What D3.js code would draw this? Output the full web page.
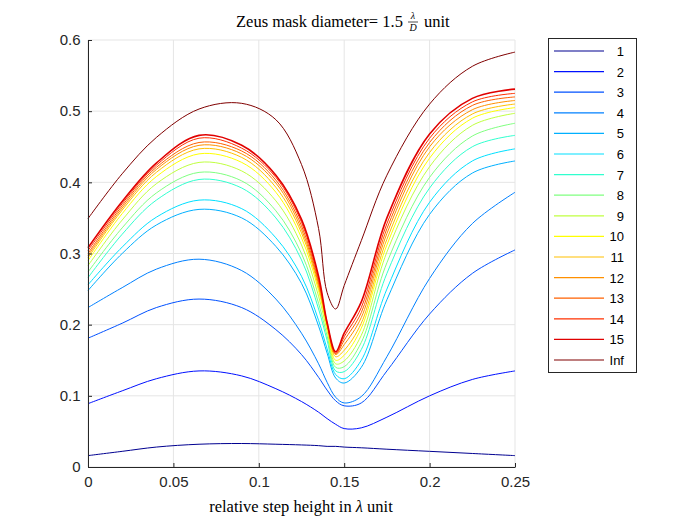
<!DOCTYPE html>
<html><head><meta charset="utf-8">
<script src="https://cdn.jsdelivr.net/npm/d3@7"></script>
<style>body{margin:0;background:#fff}</style>
</head><body><svg id="c" width="700" height="525"></svg>
<script>
const xs = [0, .02, .04, .065, .09, .11, .125, .135, .14, .145, .15, .16, .175, .2, .225, .25];
const names = ["1","2","3","4","5","6","7","8","9","10","11","12","13","14","15","Inf"];
const colors = ["#000090","#0010ff","#0050ff","#0080ff","#00b0ff","#00e0ff","#30ffcf","#80ff80",
  "#c0ff40","#ffff00","#ffc000","#ff9000","#ff6000","#ff3000","#e00000","#800000"];
const series = [
  [.016,.022,.028,.032,.033,.032,.031,.030,.029,.029,.028,.027,.025,.022,.019,.016],
  [.089,.107,.124,.135,.128,.110,.092,.077,.068,.060,.054,.055,.070,.100,.123,.135],
  [.181,.202,.224,.236,.224,.193,.158,.126,.108,.093,.086,.090,.135,.215,.272,.305],
  [.224,.252,.278,.292,.276,.236,.188,.145,.119,.098,.090,.099,.155,.265,.342,.386],
  [.248,.300,.340,.362,.350,.310,.258,.198,.160,.125,.118,.140,.235,.355,.413,.430],
  [.256,.309,.351,.375,.363,.322,.268,.206,.166,.130,.124,.150,.250,.372,.430,.447],
  [.266,.327,.375,.404,.392,.350,.291,.222,.178,.135,.134,.165,.272,.392,.450,.466],
  [.274,.336,.385,.414,.402,.360,.300,.230,.184,.140,.141,.175,.287,.407,.465,.483],
  [.283,.347,.398,.428,.416,.374,.312,.240,.191,.145,.149,.185,.302,.422,.480,.497],
  [.290,.356,.408,.440,.428,.386,.322,.248,.196,.150,.157,.195,.312,.434,.490,.505],
  [.294,.361,.414,.447,.435,.393,.329,.253,.199,.155,.164,.202,.320,.442,.496,.510],
  [.297,.364,.418,.452,.440,.399,.334,.257,.200,.158,.172,.210,.328,.450,.502,.515],
  [.300,.367,.421,.456,.444,.403,.339,.260,.201,.159,.178,.217,.335,.456,.508,.520],
  [.304,.370,.424,.462,.448,.407,.344,.264,.202,.160,.183,.224,.342,.462,.513,.525],
  [.308,.373,.427,.466,.452,.410,.348,.268,.203,.162,.188,.232,.350,.468,.518,.531],
  [.349,.412,.463,.503,.511,.488,.425,.335,.245,.222,.255,.318,.410,.510,.563,.583]
];
const xTicks = [0, .05, .1, .15, .2, .25];
const yTicks = [0, .1, .2, .3, .4, .5, .6];

const svg = d3.select("#c");
const L = 88, R = 515, T = 40, B = 467;
const x = d3.scaleLinear().domain([0, .25]).range([L, R]);
const y = d3.scaleLinear().domain([0, .6]).range([B, T]);

const grid = svg.append("g").attr("stroke", "#e5e5e5").attr("stroke-width", 1);
xTicks.forEach(t => grid.append("line").attr("x1", x(t)).attr("x2", x(t)).attr("y1", T).attr("y2", B));
yTicks.forEach(t => grid.append("line").attr("x1", L).attr("x2", R).attr("y1", y(t)).attr("y2", y(t)));

const lineGen = d3.line().x((d, i) => x(xs[i])).y(d => y(d)).curve(d3.curveCatmullRom.alpha(0.5));
series.forEach((s, k) => {
  svg.append("path").attr("d", lineGen(s)).attr("fill", "none")
    .attr("stroke", colors[k]).attr("stroke-width", k == 14 ? 1.6 : 1);
});

const xa = svg.append("g").attr("transform", `translate(0,${B})`)
  .call(d3.axisBottom(x).tickValues(xTicks).tickSizeInner(-4).tickSizeOuter(0).tickFormat(d => d3.format("")(d)));
const ya = svg.append("g").attr("transform", `translate(${L},0)`)
  .call(d3.axisLeft(y).tickValues(yTicks).tickSizeInner(-4).tickSizeOuter(0).tickFormat(d => d3.format("")(d)));
[xa, ya].forEach(a => {
  a.selectAll("path,line").attr("stroke", "#262626");
  a.selectAll("text").attr("fill", "#262626").style("font-family", "Liberation Sans, Arial").style("font-size", "15px");
});
xa.selectAll("text").attr("dy", "1.1em");
ya.selectAll("text").attr("dx", "-0.3em");

const serif = "Liberation Serif, Times New Roman, serif";
svg.append("text").attr("x", 236).attr("y", 27).style("font-family", serif).style("font-size", "16.5px")
  .text("Zeus mask diameter= 1.5");
svg.append("text").attr("x", 413).attr("y", 19).attr("text-anchor", "middle").style("font-family", serif).style("font-style", "italic").style("font-size", "10px").text("λ");
svg.append("line").attr("x1", 408).attr("x2", 418).attr("y1", 22).attr("y2", 22).attr("stroke", "#000").attr("stroke-width", 0.7);
svg.append("text").attr("x", 413).attr("y", 31).attr("text-anchor", "middle").style("font-family", serif).style("font-style", "italic").style("font-size", "10px").text("D");
svg.append("text").attr("x", 424).attr("y", 27).style("font-family", serif).style("font-size", "16.5px").text("unit");

svg.append("text").attr("x", 301).attr("y", 512).attr("text-anchor", "middle").style("font-family", serif).style("font-size", "16.5px")
  .html('relative step height in <tspan font-style="italic">λ</tspan> unit');

const lg = svg.append("g");
lg.append("rect").attr("x", 548.5).attr("y", 38.5).attr("width", 88).attr("height", 334).attr("fill", "#fff").attr("stroke", "#262626");
names.forEach((n, k) => {
  const yy = 51 + k * 20.6;
  lg.append("line").attr("x1", 554).attr("x2", 604).attr("y1", yy).attr("y2", yy).attr("stroke", colors[k]).attr("stroke-width", 1.2);
  lg.append("text").attr("x", 624).attr("y", yy + 5).attr("text-anchor", "end").style("font-family", "Liberation Sans, Arial").style("font-size", "13px").text(n);
});
</script></body></html>
